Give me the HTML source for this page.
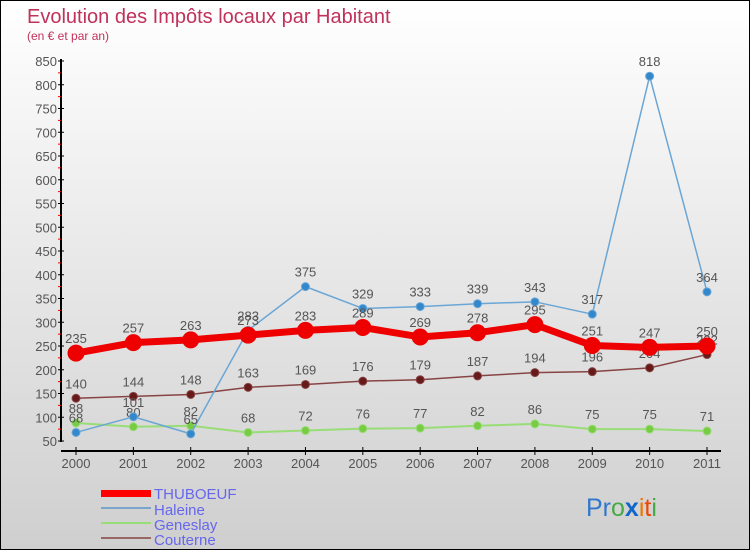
<!DOCTYPE html>
<html><head><meta charset="utf-8"><style>
body{margin:0}
#c{width:750px;height:550px;position:relative;box-sizing:border-box;border:1px solid #000;background:linear-gradient(#ffffff,#cfcfcf);font-family:"Liberation Sans",sans-serif;overflow:hidden}
svg text{font-family:"Liberation Sans",sans-serif}
</style></head><body>
<div id="c">
<svg id="s" width="750" height="550">
<text x="26" y="22" font-size="20" fill="#c0325a">Evolution des Impôts locaux par Habitant</text>
<text x="26" y="39" font-size="12" fill="#c0325a">(en € et par an)</text>
<g id="axes"></g><g id="series"></g>
<g>
<rect x="100" y="489" width="50" height="7" fill="#f00"/>
<text x="153" y="498" font-size="15" fill="#6666ee">THUBOEUF</text>
<line x1="100" y1="507" x2="150" y2="507" stroke="#7aa6cc" stroke-width="2"/>
<text x="153" y="514" font-size="15" fill="#6666ee">Haleine</text>
<line x1="100" y1="522" x2="150" y2="522" stroke="#99dd77" stroke-width="2"/>
<text x="153" y="529" font-size="15" fill="#6666ee">Geneslay</text>
<line x1="100" y1="537" x2="150" y2="537" stroke="#996666" stroke-width="2"/>
<text x="153" y="544" font-size="15" fill="#6666ee">Couterne</text>
</g>
<g font-size="25">
<text x="585" y="515"><tspan fill="#3377cc">Pr</tspan><tspan fill="#44aa44">o</tspan><tspan fill="#1166cc" font-weight="bold">x</tspan><tspan fill="#ee7700">i</tspan><tspan fill="#ee4400">t</tspan><tspan fill="#44aa44">i</tspan></text>
</g>
</svg></div>
<script>
const years=[2000,2001,2002,2003,2004,2005,2006,2007,2008,2009,2010,2011];
const thuboeuf=[235,257,263,273,283,289,269,278,295,251,247,250];
const haleine=[68,101,65,283,375,329,333,339,343,317,818,364];
const geneslay=[88,80,82,68,72,76,77,82,86,75,75,71];
const couterne=[140,144,148,163,169,176,179,187,194,196,204,232];
const yTicks=[50,100,150,200,250,300,350,400,450,500,550,600,650,700,750,800,850];
const NS="http://www.w3.org/2000/svg";
const xS=i=>75+i*(706-75)/11;
const yS=v=>440-(v-50)*380/800;
function mk(t,a,p){const e=document.createElementNS(NS,t);for(const k in a)e.setAttribute(k,a[k]);p.appendChild(e);return e;}
const ax=document.getElementById('axes'),sr=document.getElementById('series');
const ya=mk('line',{x1:60,y1:58,x2:60,y2:441,stroke:'#000','stroke-width':2},ax);


const xa=mk('line',{x1:60,y1:450,x2:720,y2:450,stroke:'#000','stroke-width':2},ax);


yTicks.forEach((v,i)=>{
 mk('line',{x1:57,y1:yS(v),x2:63,y2:yS(v),stroke:'#000'},ax);
 if(i<yTicks.length-1)mk('line',{x1:57,y1:yS(v+25),x2:60,y2:yS(v+25),stroke:'#e00'},ax);
 const t=mk('text',{x:56,y:yS(v)+5,'font-size':13,fill:'#555','text-anchor':'end'},ax);t.textContent=v;
 
 
});
years.forEach((y,i)=>{
 mk('line',{x1:xS(i),y1:446,x2:xS(i),y2:454,stroke:'#000'},ax);
 const t=mk('text',{x:xS(i),y:467,'font-size':13,fill:'#555','text-anchor':'middle'},ax);t.textContent=y;
 
 
});
function series(d,name,col,dot,w,r){
 const g=mk('g',{},sr);
 
 
 mk('polyline',{points:d.map((v,i)=>xS(i)+','+yS(v)).join(' '),fill:'none',stroke:col,'stroke-width':w,'stroke-linejoin':'round'},g);
 d.forEach((v,i)=>{
  const c=mk('circle',{cx:xS(i),cy:yS(v),r:r,fill:dot,stroke:col,'stroke-width':1},g);
  
  
  const t=mk('text',{x:xS(i),y:yS(v)-10,'font-size':13,fill:'#555','text-anchor':'middle'},g);t.textContent=v;
  
  
 });
}
series(geneslay,'geneslay','#99dd77','#77cc44',2,4);
series(couterne,'couterne','#884444','#661a1a',1.5,4);
series(haleine,'haleine','#6aa6d6','#3388cc',1.5,4);
series(thuboeuf,'thuboeuf','#ee0000','#ee0000',7,8);
</script>
</body></html>
